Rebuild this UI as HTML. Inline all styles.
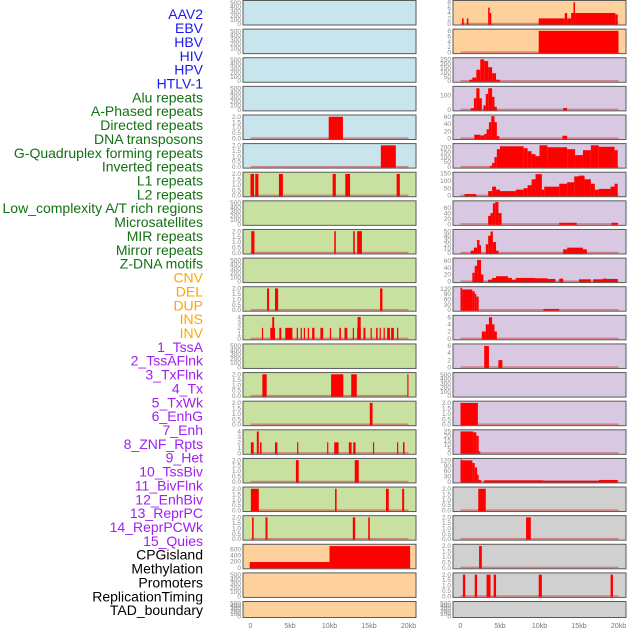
<!DOCTYPE html>
<html><head><meta charset="utf-8">
<style>
html,body{margin:0;padding:0;background:#fff;}
svg{display:block;font-family:"Liberation Sans",sans-serif;}
</style></head>
<body>
<svg id="chart" width="630" height="630" viewBox="0 0 630 630" xmlns="http://www.w3.org/2000/svg"></svg>
<script>
// ---- data ----
const rowLabels = ["AAV2","EBV","HBV","HIV","HPV","HTLV-1","Alu repeats","A-Phased repeats","Directed repeats","DNA transposons","G-Quadruplex forming repeats","Inverted repeats","L1 repeats","L2 repeats","Low_complexity A/T rich regions","Microsatellites","MIR repeats","Mirror repeats","Z-DNA motifs","CNV","DEL","DUP","INS","INV","1_TssA","2_TssAFlnk","3_TxFlnk","4_Tx","5_TxWk","6_EnhG","7_Enh","8_ZNF_Rpts","9_Het","10_TssBiv","11_BivFlnk","12_EnhBiv","13_ReprPC","14_ReprPCWk","15_Quies","CPGisland","Methylation","Promoters","ReplicationTiming","TAD_boundary"];
const labelGroups = [0,0,0,0,0,0,1,1,1,1,1,1,1,1,1,1,1,1,1,2,2,2,2,2,3,3,3,3,3,3,3,3,3,3,3,3,3,3,3,4,4,4,4,4];
const groupColors = ["#1a1aee","#137013","#ffa500","#a020f0","#000000"];

const leftFill = ["b","b","b","b","b","b","g","g","g","g","g","g","g","g","g","g","g","g","g","o","o","o"];
const rightFill = ["o","o","p","p","p","p","p","p","p","p","p","p","p","p","p","p","p","x","x","x","x","x"];

const leftMax = [520,520,520,520,2.05,2.05,2.05,520,2.05,520,2.05,4.1,520,2.05,2.05,4.1,2.05,2.05,2.05,720,520,520];
const leftTicks = [
 [0,100,200,300,400,500],[0,100,200,300,400,500],[0,100,200,300,400,500],[0,100,200,300,400,500],
 [0,0.5,1,1.5,2],[0,0.5,1,1.5,2],[0,0.5,1,1.5,2],[0,100,200,300,400,500],[0,0.5,1,1.5,2],
 [0,100,200,300,400,500],[0,0.5,1,1.5,2],[0,1,2,3,4],[0,100,200,300,400,500],[0,0.5,1,1.5,2],
 [0,0.5,1,1.5,2],[0,1,2,3,4],[0,0.5,1,1.5,2],[0,0.5,1,1.5,2],[0,0.5,1,1.5,2],[0,200,400,600],
 [0,100,200,300,400,500],[0,100,200,300,400,500]];
// segments: [startKb, endKb, value]
const leftBars = [
 [],[],[],[],
 [[9.9,11.7,2]],
 [[16.5,18.4,2]],
 [[0,0.45,2],[0.6,1.0,2],[3.6,4.1,2],[10.4,10.8,2],[12.0,12.6,2],[18.5,18.9,2]],
 [],
 [[0.1,0.5,2],[10.6,10.8,2],[13.0,13.2,2],[13.5,14.1,2]],
 [],
 [[2.1,2.35,2],[3.1,3.5,2],[16.4,16.7,2]],
 [[1.45,1.6,2],[2.5,3.1,2],[2.75,3.0,4],[3.65,3.9,2],[4.4,5.3,2],[5.85,6.0,2],[6.35,6.5,2],[6.75,6.9,2],[7.25,7.4,2],[7.8,8.1,2],[8.85,9.2,2],[10.05,10.2,2],[11.25,11.45,2],[11.9,12.25,2],[12.95,13.1,2],[13.5,13.95,2],[13.55,13.95,4],[14.3,14.55,2],[15.2,15.35,2],[15.9,16.1,2],[16.35,16.5,2],[16.85,17.0,2],[17.3,17.65,2],[17.8,18.15,2],[18.55,18.7,2]],
 [],
 [[1.5,2.05,2],[10.2,11.75,2],[12.75,13.45,2],[19.85,20.0,2]],
 [[15.1,15.45,2]],
 [[0.05,0.4,2],[0.8,1.05,4],[1.2,1.4,2],[3.1,3.4,2],[5.9,6.05,2],[9.7,9.85,2],[10.6,11.15,2],[12.45,12.8,2],[13.0,13.3,2],[15.5,15.65,2],[18.55,18.7,2],[19.3,19.5,2]],
 [[5.75,6.1,2],[13.2,13.7,2]],
 [[0.05,1.05,2],[10.7,10.9,2],[17.15,17.5,2],[19.2,19.45,2]],
 [[0.2,0.4,2],[1.9,2.15,2],[12.95,13.25,2],[14.9,15.1,2]],
 [[-0.1,10.0,180],[10.0,20.2,700]],
 [],[]
];

const rightMax = [8.2,8.2,255,155,62,225,150,80,52,64,124,6.2,6.2,520,2.05,25.5,124,2.05,2.05,2.05,2.05,520];
const rightTicks = [
 [0,2,4,6,8],[0,2,4,6,8],[0,50,100,150,200,250],[0,100],[0,20,40,60],[0,50,100,150,200],[0,50,100,150],
 [0,20,40,60],[0,10,20,30,40,50],[0,20,40,60],[0,30,60,90,120],[0,2,4,6],[0,2,4,6],[0,100,200,300,400,500],
 [0,0.5,1,1.5,2],[0,5,10,15,20,25],[0,30,60,90,120],[0,0.5,1,1.5,2],[0,0.5,1,1.5,2],[0,0.5,1,1.5,2],[0,0.5,1,1.5,2],[0,100,200,300,400,500]];
const rightBars = [
 [[0.2,0.4,2],[0.8,1.0,2],[3.5,3.7,6],[3.7,3.9,4],[9.9,13.2,2],[13.2,13.5,4],[13.5,14.0,2],[14.0,14.3,4],[14.3,14.5,8],[14.5,19.6,4],[19.6,19.9,3.5]],
 [[9.9,20.0,8]],
 [[1.1,1.5,15],[1.5,2.0,40],[2.0,2.5,130],[2.5,3.0,250],[3.0,3.5,230],[3.5,4.0,160],[4.0,4.5,90],[4.5,5.0,15]],
 [[1.3,1.7,10],[1.7,2.0,80],[2.0,2.4,150],[2.4,2.7,80],[2.9,3.2,30],[3.2,3.5,110],[3.5,4.0,150],[4.0,4.3,90],[4.3,4.6,20],[13.0,13.5,12]],
 [[1.75,2.5,10],[2.5,3.0,8],[3.0,3.3,12],[3.3,3.6,25],[3.6,3.9,45],[3.9,4.3,62],[4.3,4.6,45],[4.6,4.9,6],[12.9,13.5,7]],
 [[3.7,4.0,10],[4.0,4.3,40],[4.3,4.6,100],[4.6,5.0,180],[5.0,8.0,210],[8.0,8.5,190],[8.5,9.0,160],[9.0,9.5,130],[9.5,10.0,110],[10.0,11.0,220],[11.0,13.5,200],[13.5,14.5,180],[14.5,15.5,120],[15.5,16.5,170],[16.5,17.5,220],[17.5,19.5,205],[19.5,19.9,170]],
 [[0.5,2.0,10],[3.5,4.0,30],[4.0,4.5,60],[4.5,5.0,40],[5.0,7.0,30],[7.0,8.0,40],[8.0,8.5,50],[8.5,9.0,70],[9.0,9.5,110],[9.5,10.3,145],[10.3,10.6,40],[10.6,12.5,60],[12.5,13.5,80],[13.5,14.4,90],[14.4,15.0,130],[15.0,15.7,135],[15.7,16.5,110],[16.5,17.0,80],[17.0,17.5,40],[17.5,19.0,45],[19.0,19.5,60],[19.5,19.9,80]],
 [[3.5,3.8,30],[3.8,4.1,40],[4.1,4.4,75],[4.4,4.8,80],[4.8,5.2,40],[12.5,13.2,5],[13.2,14.7,5],[19.1,19.9,5]],
 [[1.3,1.7,5],[1.7,2.1,12],[2.1,2.4,30],[2.4,2.6,18],[3.2,3.5,20],[3.5,3.8,40],[3.8,4.1,50],[4.1,4.5,25],[4.5,4.8,5],[13.0,13.5,8],[13.5,15.5,12],[15.5,16.0,8]],
 [[1.5,1.8,25],[1.8,2.1,45],[2.1,2.6,62],[2.6,2.9,20],[3.5,4.0,5],[4.0,4.5,10],[4.5,6.0,15],[6.0,6.5,10],[6.5,7.0,5],[7.0,9.5,10],[9.5,11.0,9],[11.0,12.0,7],[12.5,13.0,8],[15.0,16.5,6],[16.8,18.0,6],[18.0,18.5,8],[18.5,19.9,7]],
 [[0.0,0.2,124],[0.2,1.5,115],[1.5,1.8,105],[1.8,2.0,90],[2.0,2.3,75],[10.5,12.5,6]],
 [[2.7,3.2,2],[3.2,3.6,4],[3.6,4.0,6],[4.0,4.3,4],[4.3,4.6,2]],
 [[3.0,3.6,6],[4.8,5.3,2]],
 [],
 [[0,2.2,2]],
 [[0,1.6,25],[1.6,2.0,24],[2.0,2.3,20],[2.3,2.5,2]],
 [[0,0.2,124],[0.2,1.5,120],[1.5,1.8,105],[1.8,2.1,80],[2.1,2.3,40],[2.3,2.6,10],[3.0,10.5,8],[10.5,17.5,6],[17.5,19.9,10]],
 [[2.25,3.2,2]],
 [[8.3,8.9,2]],
 [[2.35,2.7,2]],
 [[0.3,0.6,2],[1.8,2.1,2],[3.3,3.8,2],[4.2,4.5,2],[9.9,10.3,2],[19.0,19.3,2]],
 []
];
const xTickVals = [0,5,10,15,20];
const xTickText = ["0","5kb","10kb","15kb","20kb"];

// ---- layout ----
const NS = "http://www.w3.org/2000/svg";
const svg = document.getElementById("chart");
const fills = {b:"#c8e4ec",g:"#c8e0a0",o:"#fdd09c",p:"#d8c8e2",x:"#d0d0d0"};
const cols = [{x0:243,x1:416,zero:250.5},{x0:453,x1:626,zero:460.5}];
const kbPx = 7.9;
function rowTop(k){return 0.5 + k*28.62;}
function rowH(k){return k===21 ? 16 : 24.5;}
function xScale(c,kb){return cols[c].zero + kb*kbPx;}
function yScale(k,v,max){const b=rowTop(k)+rowH(k)-1.2;return b - v/max*(rowH(k)-2.4);}
function mk(tag,attrs,parent){const e=document.createElementNS(NS,tag);for(const a in attrs)e.setAttribute(a,attrs[a]);(parent||svg).appendChild(e);return e;}

// row labels
rowLabels.forEach((t,i)=>{
  const el = mk("text",{x:203,y:15.5+i*13.86,"text-anchor":"end","dominant-baseline":"middle","font-size":"14",fill:groupColors[labelGroups[i]]});
  el.textContent = t;
  
  
});

function drawPanel(c,k,fillKey,max,ticks,bars){
  const g = mk("g",{});
  
  
  const x0=cols[c].x0,x1=cols[c].x1,t=rowTop(k),h=rowH(k);
  mk("rect",{x:x0,y:t,width:x1-x0,height:h,fill:fills[fillKey],stroke:"#5a5a5a","stroke-width":"1"},g);
  const dec = max<3;
  ticks.forEach(v=>{
    const lab = mk("text",{x:x0-2,y:yScale(k,v,max)+2.2,"text-anchor":"end","font-size":"6.5",fill:"#888"},g);
    lab.textContent = dec ? v.toFixed(1) : String(v);
    
    
  });
  if(bars.length){
    mk("rect",{x:xScale(c,0),y:t+h-2.2,width:xScale(c,20)-xScale(c,0),height:1.6,fill:"#d05050","fill-opacity":"0.6"},g);
  }
  bars.forEach(s=>{
    let a=Math.max(xScale(c,s[0]),x0+0.5), b=Math.min(xScale(c,s[1]),x1-0.5);
    const y=yScale(k,s[2],max);
    const r = mk("rect",{x:a,y:y,width:Math.max(b-a,1),height:Math.max(t+h-0.5-y,0.5),fill:"#ff0000"},g);
    
    
  });
}
for(let k=0;k<22;k++){
  drawPanel(0,k,leftFill[k],leftMax[k],leftTicks[k],leftBars[k]);
  drawPanel(1,k,rightFill[k],rightMax[k],rightTicks[k],rightBars[k]);
}
// x axes
[0,1].forEach(c=>{
  xTickVals.forEach((v,i)=>{
    const e = mk("text",{x:xScale(c,v),y:628,"text-anchor":"middle","font-size":"7",fill:"#777"});
    e.textContent = xTickText[i];
    
    
  });
});
</script>
</body></html>
